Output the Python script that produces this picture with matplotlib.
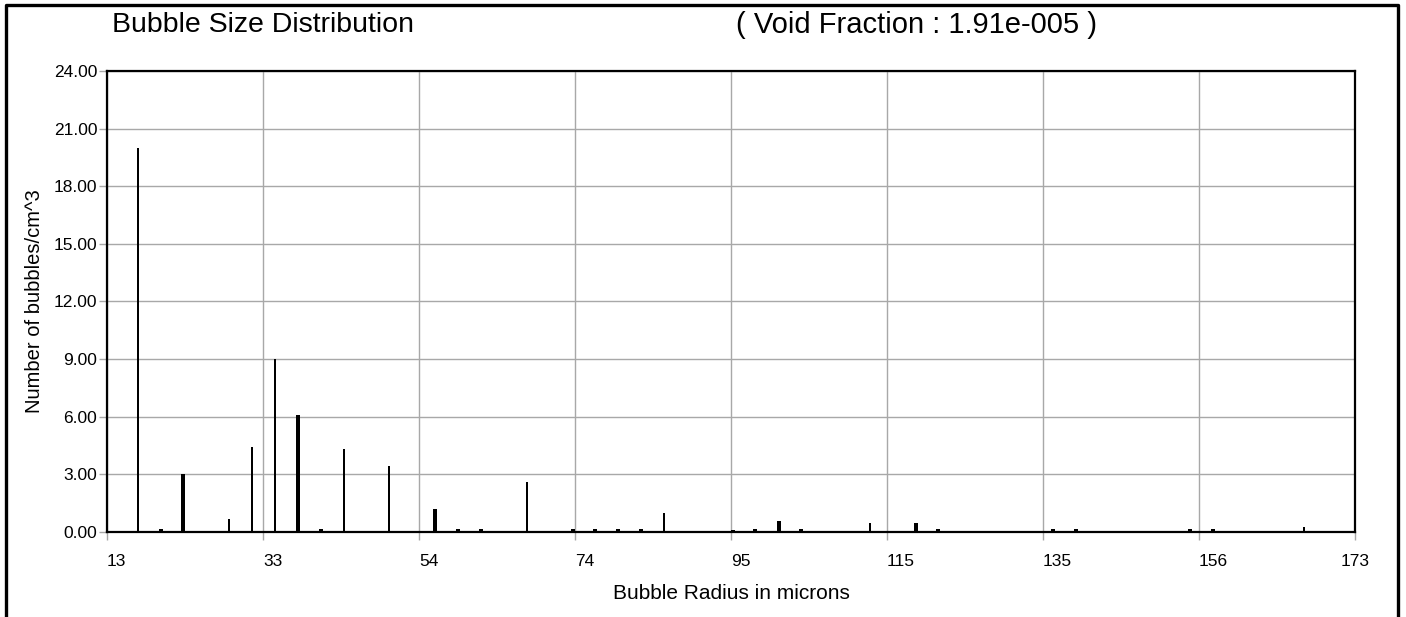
import matplotlib
matplotlib.use("Agg")
import matplotlib.pyplot as plt
from matplotlib.lines import Line2D

# ---- data ----
radius = [17.0, 19.9, 22.8, 28.7, 31.6, 34.6, 37.5, 40.4, 43.4, 49.2,
          55.1, 58.0, 61.0, 66.8, 72.7, 75.6, 78.5, 81.5, 84.4, 93.2,
          96.1, 99.1, 102.0, 110.8, 116.7, 119.6, 134.3, 137.2, 151.8, 154.8,
          166.5]
count = [20.0, 0.12, 3.0, 0.65, 4.4, 9.0, 6.1, 0.12, 4.3, 3.4,
         1.2, 0.12, 0.12, 2.6, 0.12, 0.12, 0.12, 0.12, 0.95, 0.08,
         0.12, 0.55, 0.12, 0.45, 0.45, 0.12, 0.12, 0.12, 0.12, 0.12,
         0.25]
x_tick_labels = ["13", "33", "54", "74", "95", "115", "135", "156", "173"]
y_tick_values = [0, 3, 6, 9, 12, 15, 18, 21, 24]
void_fraction = "1.91e-005"

# ---- styling (bar widths: thin vs thick strokes) ----
thick = [False, True, True, False, False, False, True, True, False, False,
         True, True, True, False, True, True, True, True, False, True,
         True, True, True, False, True, True, True, True, True, True,
         False]

W, H = 1406, 617
fig = plt.figure(figsize=(W / 100, H / 100), dpi=100)
plt.rcParams['font.family'] = ['Liberation Sans', 'DejaVu Sans']

left, right, top, bottom = 107, 1355, 71, 531.7
ax = fig.add_axes([left / W, 1 - bottom / H, (right - left) / W, (bottom - top) / H])

x0, x1 = 13, 173
px_per_unit = (right - left) / (x1 - x0)
widths = [(4.0 if t else 2.0) / px_per_unit for t in thick]
ax.bar(radius, count, width=widths, color='black', linewidth=0, zorder=3,
       antialiased=False)

ax.set_xlim(x0, x1)
ax.set_ylim(0, 24)

xt = [x0 + i * (x1 - x0) / 8 for i in range(9)]
ax.set_xticks(xt)
ax.set_xticklabels(x_tick_labels, fontsize=12.5)
for i, lab in enumerate(ax.get_xticklabels()):
    lab.set_horizontalalignment('center' if i == len(xt) - 1 else 'left')
ax.set_yticks(y_tick_values)
ax.set_yticklabels([f"{v:.2f}" for v in y_tick_values], fontsize=12.5)

ax.tick_params(axis='both', direction='out', length=6, width=1,
               color='#a8a8a8', pad=1)
ax.tick_params(axis='x', pad=10)
ax.grid(True, color='#a8a8a8', linewidth=1.0, zorder=0)
ax.set_axisbelow(True)
for s in ax.spines.values():
    s.set_color('black')
    s.set_linewidth(1.6)

ax.set_xlabel("Bubble Radius in microns", fontsize=15, labelpad=11)
ax.set_ylabel("Number of bubbles/cm^3", fontsize=14.5, labelpad=7)

fig.text(112 / W, 1 - 25 / H, "Bubble Size Distribution", fontsize=20.5,
         ha='left', va='center')
fig.text(736 / W, 1 - 25 / H, f"( Void Fraction : {void_fraction} )",
         fontsize=21, ha='left', va='center')

# outer frame
fx = [5.5 / W, 5.5 / W, 1397.5 / W, 1397.5 / W]
fy = [0.0, 1 - 4.5 / H, 1 - 4.5 / H, 0.0]
fig.add_artist(Line2D(fx, fy, color='black', linewidth=2.4,
                      transform=fig.transFigure))

fig.savefig("out.png", dpi=100)
